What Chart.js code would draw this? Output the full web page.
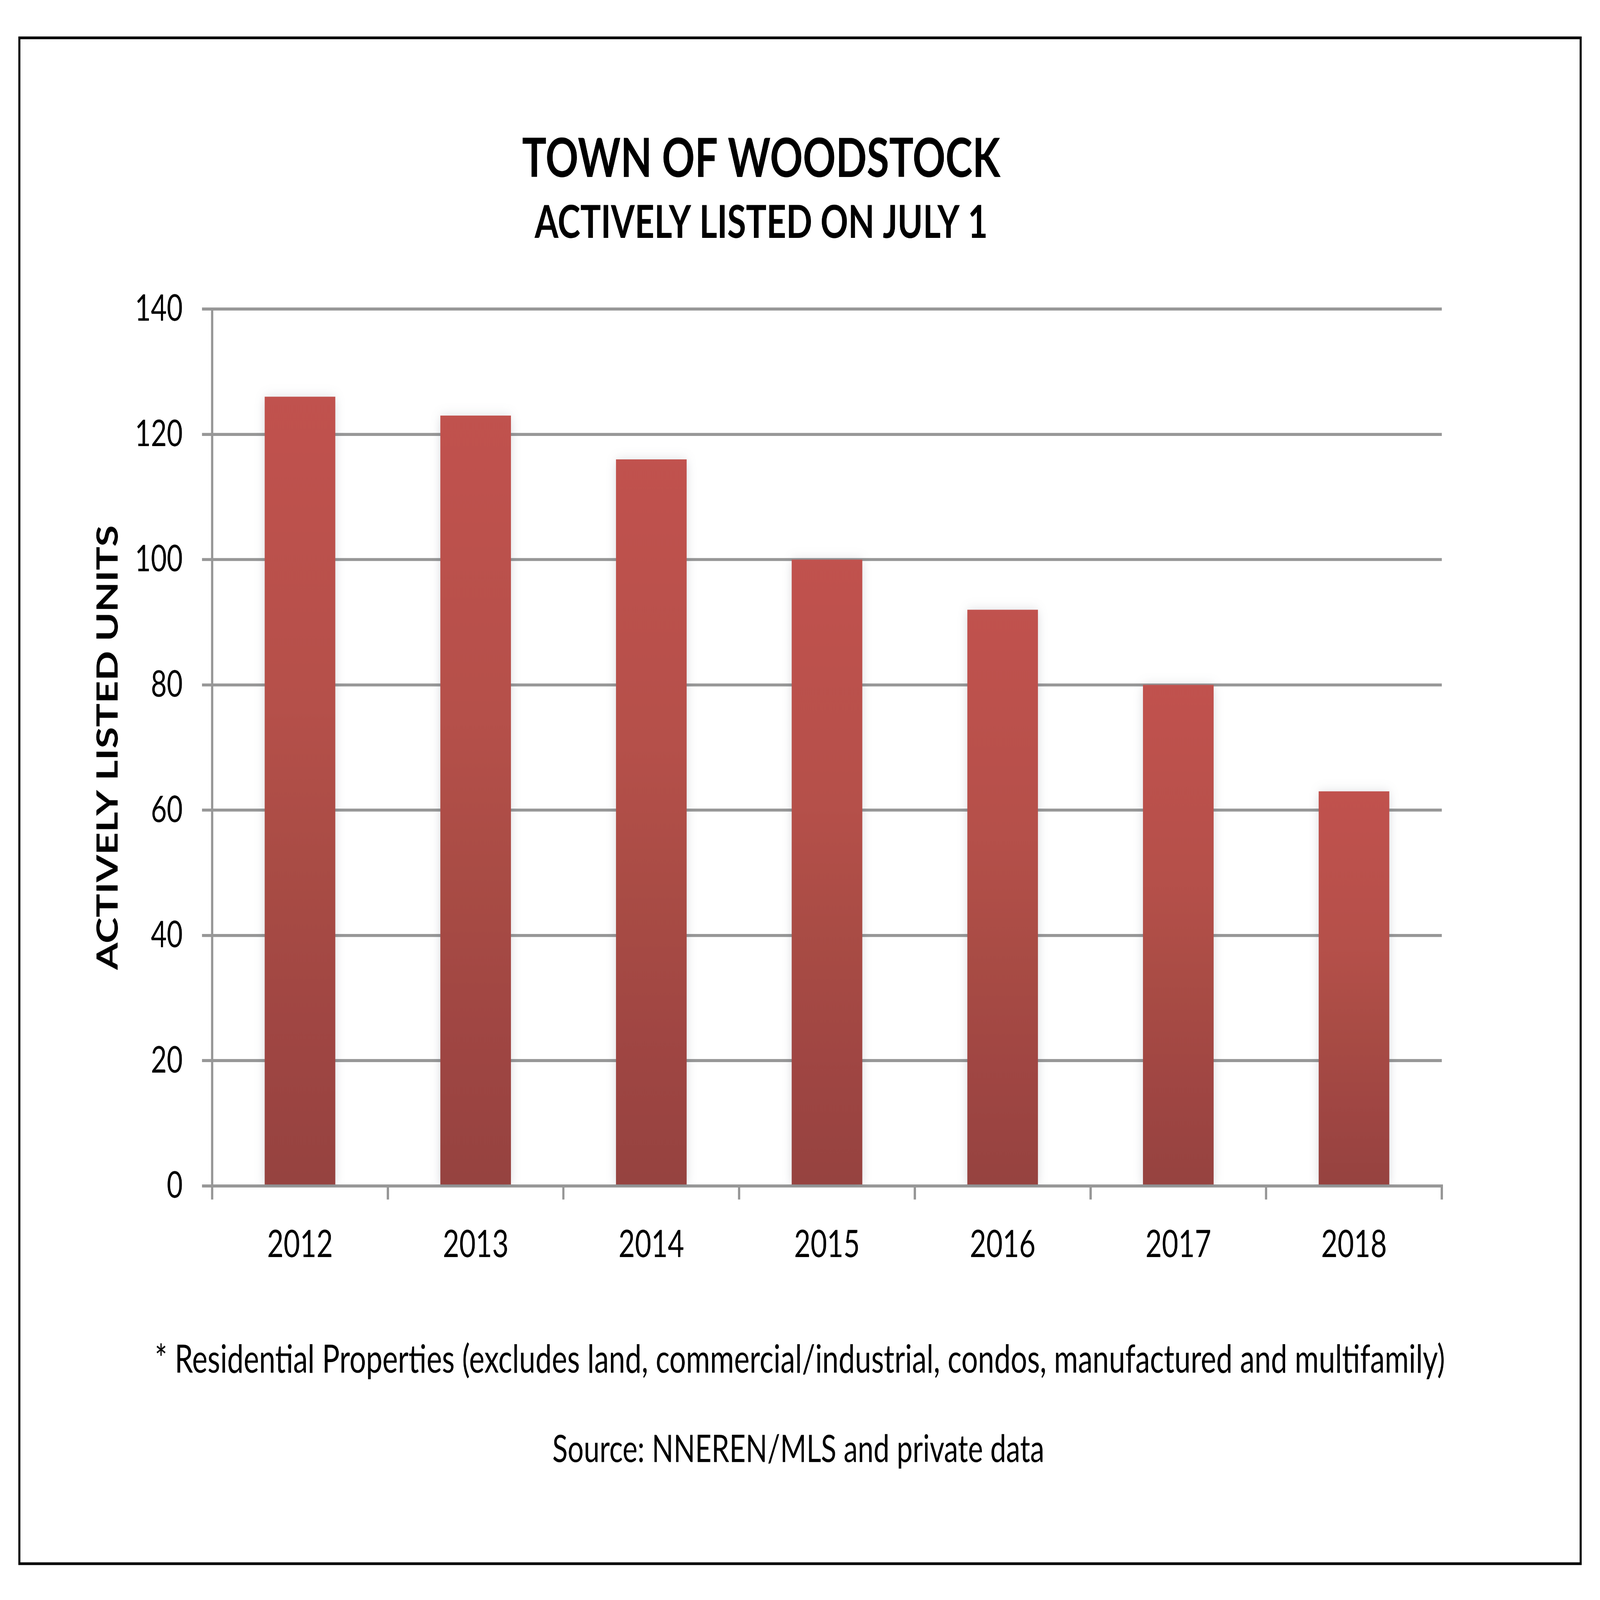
<!DOCTYPE html>
<html><head><meta charset="utf-8">
<script src="https://cdn.jsdelivr.net/npm/chart.js@4/dist/chart.umd.min.js"></script>
<style>html,body{margin:0;padding:0;background:#fff;overflow:hidden;}canvas{display:block;}</style>
</head><body><canvas id="c" width="7111" height="5333"></canvas>
<script>
const categories = ['2012', '2013', '2014', '2015', '2016', '2017', '2018'];
const activeListings = [126, 123, 116, 100, 92, 80, 63];
const yTicks = [0, 20, 40, 60, 80, 100, 120, 140];
const titleText = 'TOWN OF WOODSTOCK';
const subtitleText = 'ACTIVELY LISTED ON JULY 1';
const yAxisTitle = 'ACTIVELY LISTED UNITS';
const footnoteText = '* Residential Properties (excludes land, commercial/industrial, condos, manufactured and multifamily)';
const sourceText = 'Source: NNEREN/MLS and private data';

const FONT = 'Lato';
const GRID = '#979797';
const cv = document.getElementById('c');
// the drawing is made at 7111x5333 and shown so that it fills the browser window
cv.style.width = window.innerWidth + 'px';
cv.style.height = window.innerHeight + 'px';

const framePlugin = {
  id: 'frame',
  afterDraw(chart) {
    const c = chart.ctx;
    c.save();
    c.strokeStyle = '#000';
    c.lineWidth = 9;
    c.strokeRect(86, 126, 6939, 5086);
    c.fillStyle = '#000';
    c.textAlign = 'center';
    c.textBaseline = 'alphabetic';
    c.font = 'bold 181px ' + FONT;
    c.fillText(titleText, 3383, 590);
    c.font = 'bold 152px ' + FONT;
    c.fillText(subtitleText, 3383, 793);
    c.font = '130px ' + FONT;
    c.fillText(footnoteText, 3555, 4575);
    c.font = '126px ' + FONT;
    c.fillText(sourceText, 3548, 4873);
    c.restore();
  }
};

const shadowPlugin = {
  id: 'barShadow',
  beforeDatasetsDraw(chart) {
    const c = chart.ctx;
    c.save();
    c.shadowColor = 'rgba(60,70,90,0.20)';
    c.shadowBlur = 40;
    c.shadowOffsetX = 0;
    c.shadowOffsetY = 4;
  },
  afterDatasetsDraw(chart) { chart.ctx.restore(); }
};

function barGradient(ctx) {
  const chart = ctx.chart;
  if (!chart.chartArea || ctx.type !== 'data') return '#B04C48';
  const y = chart.scales.y;
  const top = y.getPixelForValue(ctx.raw);
  const bottom = y.getPixelForValue(0);
  const g = chart.ctx.createLinearGradient(0, top, 0, bottom);
  g.addColorStop(0, '#C1524E');
  g.addColorStop(0.4, '#B5504A');
  g.addColorStop(0.6, '#A94C45');
  g.addColorStop(0.8, '#A04643');
  g.addColorStop(1, '#964340');
  return g;
}

function draw() {
  new Chart(cv, {
    type: 'bar',
    data: {
      labels: categories,
      datasets: [{
        data: activeListings,
        backgroundColor: barGradient,
        borderWidth: 0,
        categoryPercentage: 1,
        barPercentage: 0.402
      }]
    },
    options: {
      responsive: false,
      devicePixelRatio: 1,
      animation: false,
      layout: { padding: { left: 300, right: 703, top: 1030, bottom: 1080 } },
      plugins: { legend: { display: false }, tooltip: { enabled: false }, title: { display: false } },
      scales: {
        x: {
          offset: true,
          grid: { display: true, drawOnChartArea: false, drawTicks: true, tickLength: 45, color: GRID, lineWidth: 10, offset: true },
          border: { display: true, color: GRID, width: 10 },
          ticks: { color: '#000', font: { family: FONT, size: 126 }, padding: 76, maxRotation: 0 },
          afterFit(sc) { sc.height = 300; }
        },
        y: {
          min: 0, max: 140,
          afterBuildTicks(sc) { sc.ticks = yTicks.map(v => ({ value: v })); },
          grid: { color: GRID, lineWidth: 10, drawTicks: true, tickLength: 45 },
          border: { display: true, color: GRID, width: 10 },
          ticks: { color: '#000', font: { family: FONT, size: 122 }, padding: 86 },
          title: { display: true, text: yAxisTitle, color: '#000', font: { family: FONT, size: 131, weight: 'bold' }, padding: { top: 102, bottom: 0 } },
          afterFit(sc) { sc.width = 643; }
        }
      }
    },
    plugins: [shadowPlugin, framePlugin]
  });
}

Promise.all([
  document.fonts.load('bold 100px Lato'),
  document.fonts.load('100px Lato')
]).then(draw, draw);
</script>
</body></html>
